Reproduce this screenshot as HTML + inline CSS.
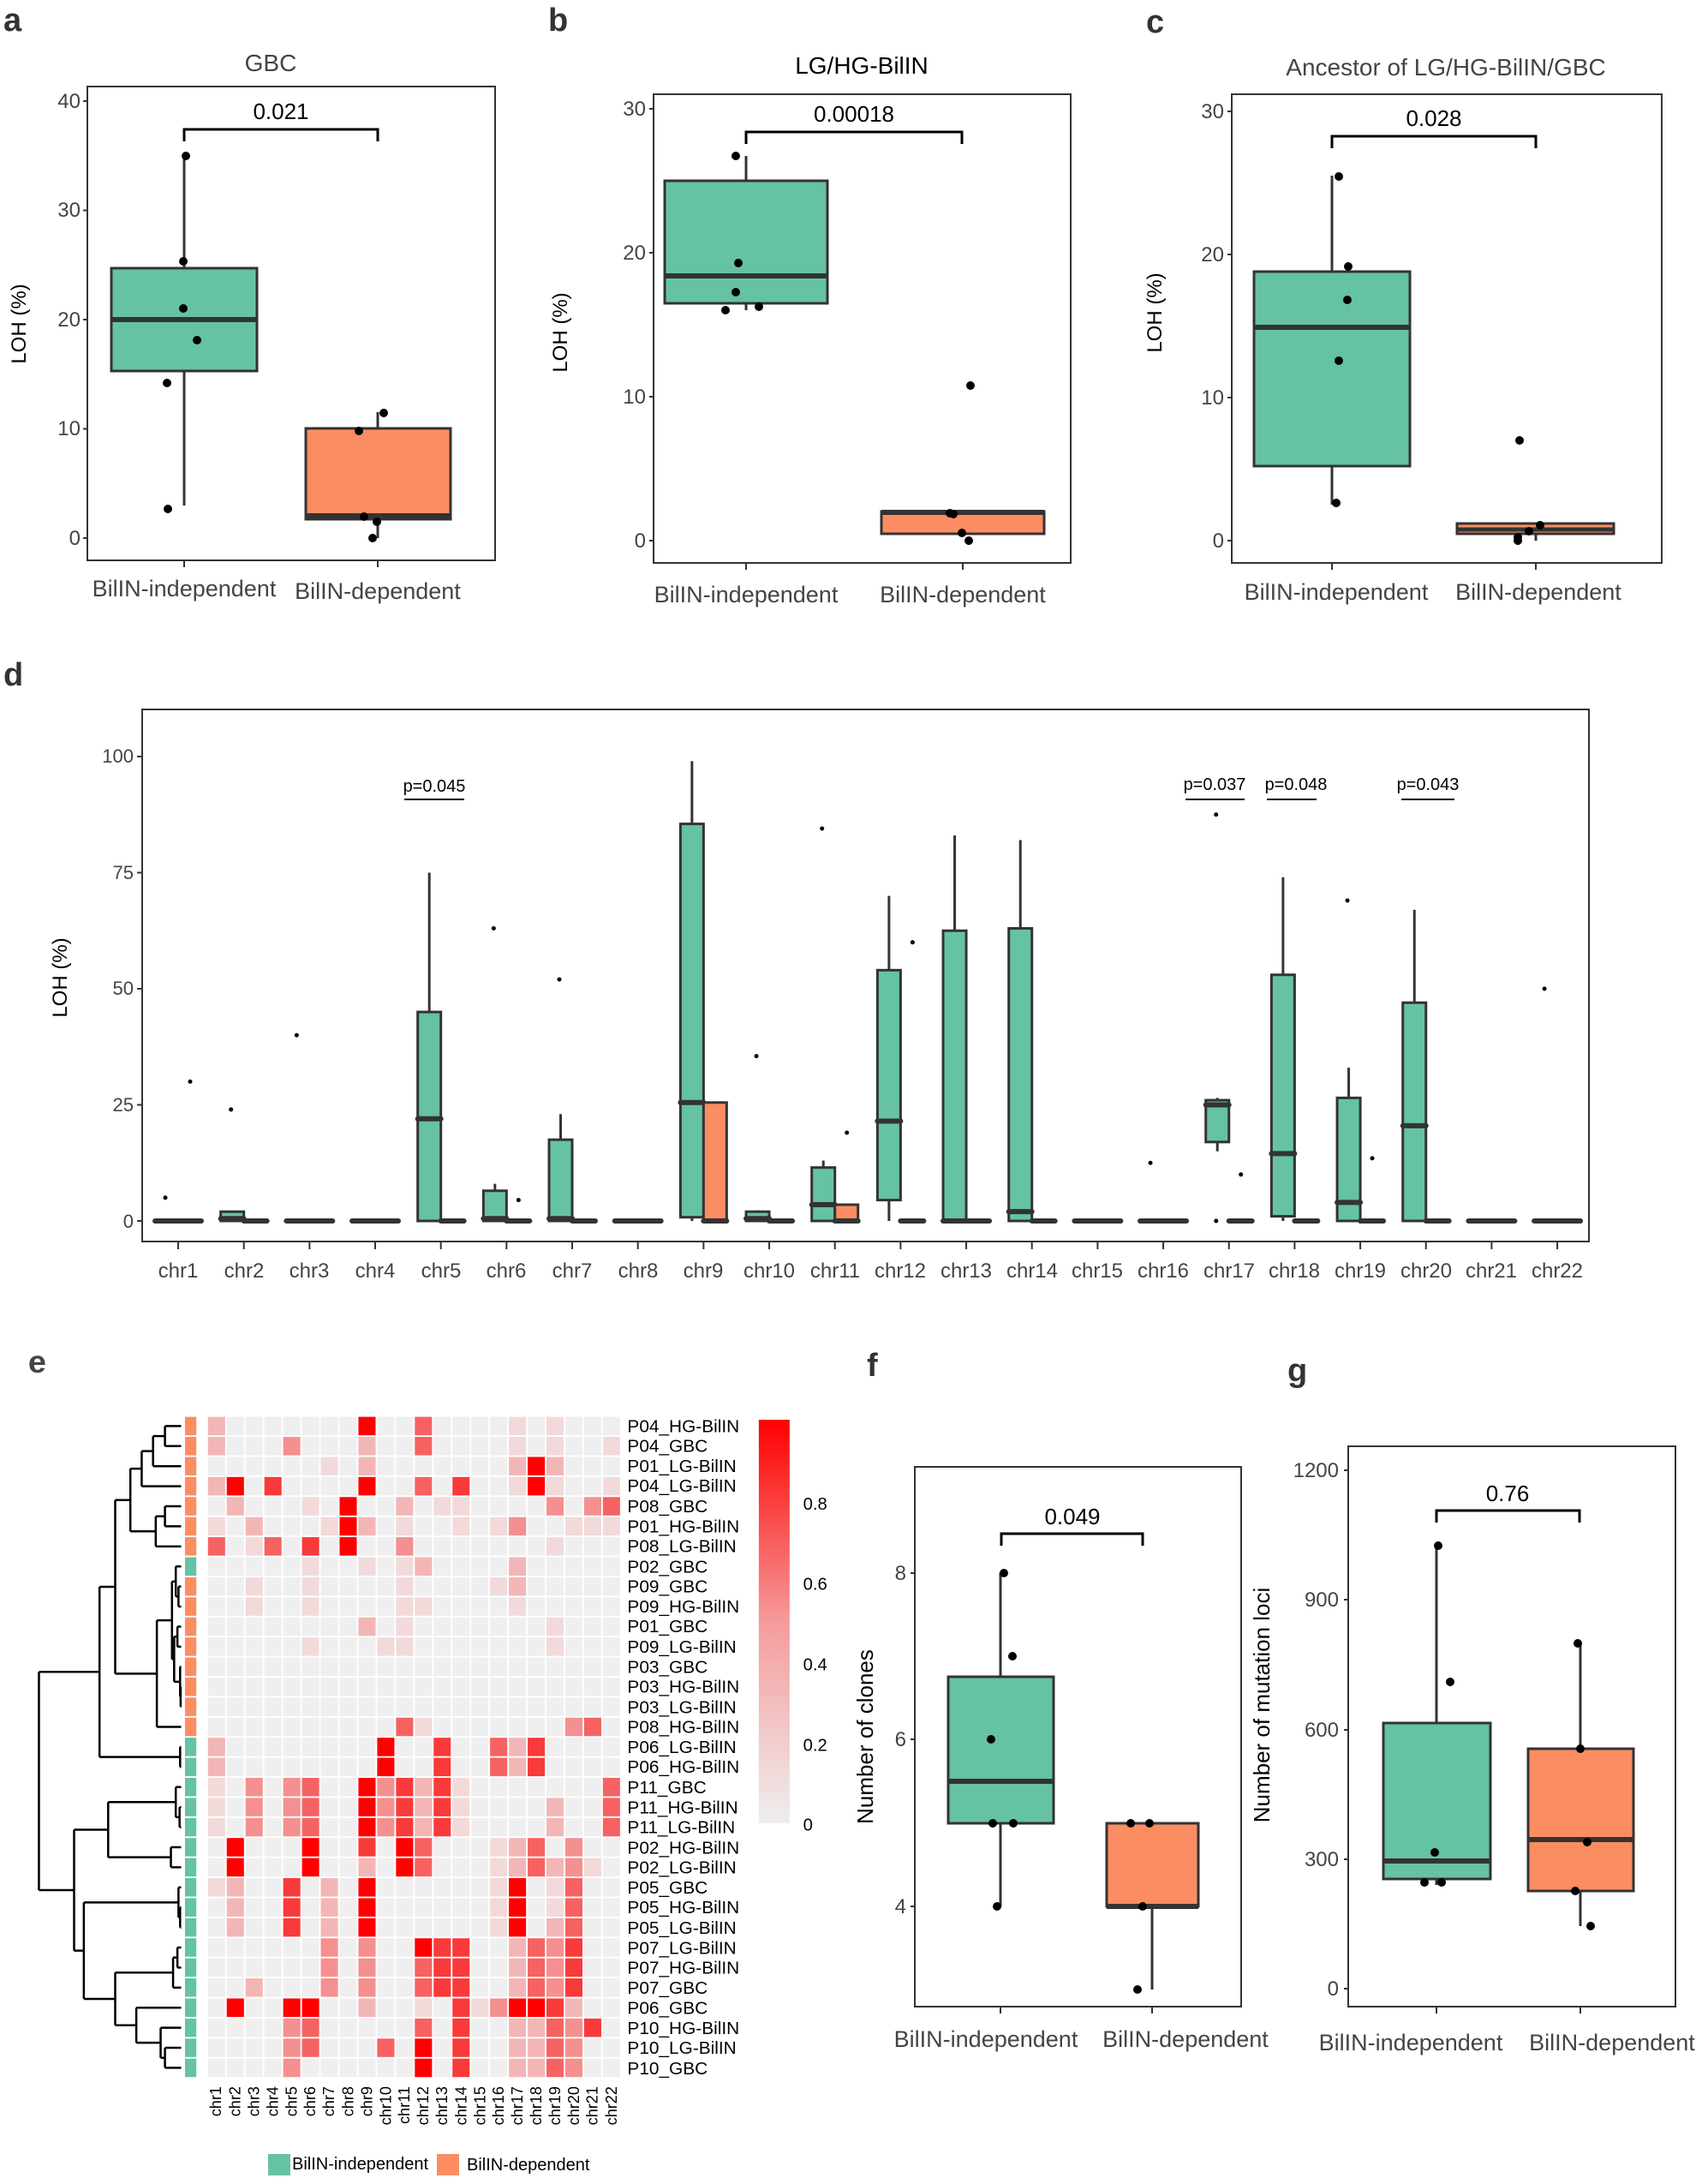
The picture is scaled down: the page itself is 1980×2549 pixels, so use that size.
<!DOCTYPE html>
<html><head><meta charset="utf-8"><style>
html,body{margin:0;padding:0;background:#fff}
svg{display:block}
text{font-family:"Liberation Sans",sans-serif}
</style></head><body>
<svg id="s" width="1980" height="2549" viewBox="0 0 1980 2549" xmlns="http://www.w3.org/2000/svg">
<rect width="1980" height="2549" fill="#fff"/>
<g font-weight="bold" font-size="38" fill="#333">
<text x="4" y="36">a</text><text x="640" y="36">b</text><text x="1338" y="38">c</text>
<text x="4" y="800">d</text><text x="1012" y="1606">f</text><text x="1503" y="1612">g</text>
</g>
<!-- Panel a -->
<g stroke="#333" fill="none">
<rect x="102" y="101" width="476" height="553" stroke-width="2"/>
<line x1="215" y1="182" x2="215" y2="590" stroke-width="3"/>
<rect x="130" y="313" width="170" height="120" fill="#66c2a5" stroke-width="3"/>
<line x1="130" y1="373" x2="300" y2="373" stroke-width="6"/>
<line x1="441" y1="481" x2="441" y2="628" stroke-width="3"/>
<rect x="357" y="500" width="169" height="106" fill="#fc8d62" stroke-width="3"/>
<line x1="357" y1="602" x2="526" y2="602" stroke-width="6"/>
<path d="M215 165V151H441V165" stroke-width="3" stroke="#000"/>
<path d="M97 628H102M97 500.5H102M97 373H102M97 245.5H102M97 118H102M215 654V662M441 654V662" stroke-width="2"/>
</g>
<g fill="#000">
<circle cx="217" cy="182" r="5"/><circle cx="214" cy="305" r="5"/><circle cx="214" cy="360" r="5"/><circle cx="230" cy="397" r="5"/><circle cx="195" cy="447" r="5"/><circle cx="196" cy="594" r="5"/>
<circle cx="419" cy="503" r="5"/><circle cx="448" cy="482" r="5"/><circle cx="425" cy="603" r="5"/><circle cx="440" cy="609" r="5"/><circle cx="435" cy="628" r="5"/>
</g>
<g font-size="24" fill="#444" text-anchor="end">
<text x="94" y="636">0</text><text x="94" y="508">10</text><text x="94" y="381">20</text><text x="94" y="253">30</text><text x="94" y="126">40</text>
</g>
<text x="328" y="139" font-size="26" text-anchor="middle">0.021</text>
<text x="316" y="83" font-size="28" text-anchor="middle" fill="#444">GBC</text>
<text transform="translate(30,378) rotate(-90)" font-size="24" text-anchor="middle">LOH (%)</text>
<g font-size="27" fill="#444" text-anchor="middle"><text x="215" y="696">BilIN-independent</text><text x="441" y="699">BilIN-dependent</text></g>

<!-- Panel b -->
<g stroke="#333" fill="none">
<rect x="763" y="110" width="487" height="547" stroke-width="2"/>
<line x1="871" y1="182" x2="871" y2="362" stroke-width="3"/>
<rect x="776" y="211" width="190" height="143" fill="#66c2a5" stroke-width="3"/>
<line x1="776" y1="322" x2="966" y2="322" stroke-width="6"/>
<rect x="1029" y="597" width="190" height="26" fill="#fc8d62" stroke-width="3"/>
<line x1="1029" y1="598" x2="1219" y2="598" stroke-width="6"/>
<path d="M871 168V154H1123V168" stroke-width="3" stroke="#000"/>
<path d="M758 631H763M758 463H763M758 295H763M758 127H763M871 657V665M1124 657V665" stroke-width="2"/>
</g>
<g fill="#000">
<circle cx="859" cy="182" r="5"/><circle cx="862" cy="307" r="5"/><circle cx="859" cy="341" r="5"/><circle cx="847" cy="362" r="5"/><circle cx="886" cy="358" r="5"/>
<circle cx="1133" cy="450" r="5"/><circle cx="1109" cy="599" r="5"/><circle cx="1113" cy="600" r="5"/><circle cx="1123" cy="622" r="5"/><circle cx="1131" cy="631" r="5"/>
</g>
<g font-size="24" fill="#444" text-anchor="end">
<text x="754" y="639">0</text><text x="754" y="471">10</text><text x="754" y="303">20</text><text x="754" y="135">30</text>
</g>
<text x="997" y="142" font-size="26" text-anchor="middle">0.00018</text>
<text x="1006" y="86" font-size="28" text-anchor="middle" fill="#000">LG/HG-BilIN</text>
<text transform="translate(662,388) rotate(-90)" font-size="24" text-anchor="middle">LOH (%)</text>
<g font-size="27" fill="#444" text-anchor="middle"><text x="871" y="703">BilIN-independent</text><text x="1124" y="703">BilIN-dependent</text></g>

<!-- Panel c -->
<g stroke="#333" fill="none">
<rect x="1438" y="110" width="502" height="547" stroke-width="2"/>
<line x1="1555" y1="205" x2="1555" y2="589" stroke-width="3"/>
<rect x="1464" y="317" width="182" height="227" fill="#66c2a5" stroke-width="3"/>
<line x1="1464" y1="382" x2="1646" y2="382" stroke-width="6"/>
<line x1="1793" y1="611" x2="1793" y2="631" stroke-width="3"/>
<rect x="1701" y="611" width="183" height="12" fill="#fc8d62" stroke-width="3"/>
<line x1="1701" y1="618" x2="1884" y2="618" stroke-width="5"/>
<path d="M1555 173V159H1793V173" stroke-width="3" stroke="#000"/>
<path d="M1433 631H1438M1433 464H1438M1433 297H1438M1433 130H1438M1555 657V665M1793 657V665" stroke-width="2"/>
</g>
<g fill="#000">
<circle cx="1563" cy="206" r="5"/><circle cx="1574" cy="311" r="5"/><circle cx="1573" cy="350" r="5"/><circle cx="1563" cy="421" r="5"/><circle cx="1560" cy="587" r="5"/>
<circle cx="1774" cy="514" r="5"/><circle cx="1798" cy="613" r="5"/><circle cx="1785" cy="620" r="5"/><circle cx="1772" cy="627" r="5"/><circle cx="1772" cy="631" r="5"/>
</g>
<g font-size="24" fill="#444" text-anchor="end">
<text x="1429" y="639">0</text><text x="1429" y="472">10</text><text x="1429" y="305">20</text><text x="1429" y="138">30</text>
</g>
<text x="1674" y="147" font-size="26" text-anchor="middle">0.028</text>
<text x="1688" y="88" font-size="28" text-anchor="middle" fill="#444">Ancestor of LG/HG-BilIN/GBC</text>
<text transform="translate(1356,365) rotate(-90)" font-size="24" text-anchor="middle">LOH (%)</text>
<g font-size="27" fill="#444" text-anchor="middle"><text x="1560" y="700">BilIN-independent</text><text x="1796" y="700">BilIN-dependent</text></g>

<!-- Panel d -->
<rect x="166" y="828" width="1689" height="621" fill="none" stroke="#333" stroke-width="2"/>
<g id="dg"></g>
<g font-size="22" fill="#444" text-anchor="end">
<text x="156" y="1433">0</text><text x="156" y="1297">25</text><text x="156" y="1161">50</text><text x="156" y="1026">75</text><text x="156" y="890">100</text>
</g>
<text transform="translate(78,1141) rotate(-90)" font-size="24" text-anchor="middle">LOH (%)</text>
<g font-size="20" text-anchor="middle">
<text x="507" y="924">p=0.045</text><text x="1418" y="922">p=0.037</text><text x="1513" y="922">p=0.048</text><text x="1667" y="922">p=0.043</text>
</g>
<g stroke="#000" stroke-width="2"><path d="M472 933H542M1384 933H1453M1479 933H1537M1636 933H1698"/></g>
<g font-size="24" fill="#444" text-anchor="middle">
<text x="208" y="1491">chr1</text><text x="285" y="1491">chr2</text><text x="361" y="1491">chr3</text><text x="438" y="1491">chr4</text><text x="515" y="1491">chr5</text><text x="591" y="1491">chr6</text><text x="668" y="1491">chr7</text><text x="745" y="1491">chr8</text><text x="821" y="1491">chr9</text><text x="898" y="1491">chr10</text><text x="975" y="1491">chr11</text><text x="1051" y="1491">chr12</text><text x="1128" y="1491">chr13</text><text x="1205" y="1491">chr14</text><text x="1281" y="1491">chr15</text><text x="1358" y="1491">chr16</text><text x="1435" y="1491">chr17</text><text x="1511" y="1491">chr18</text><text x="1588" y="1491">chr19</text><text x="1665" y="1491">chr20</text><text x="1741" y="1491">chr21</text><text x="1818" y="1491">chr22</text>
</g>

<!-- Panel e -->
<svg x="0" y="1576" width="985" height="952" viewBox="0 0 1560 1527" preserveAspectRatio="none">
<g id="hm"></g>
<g id="dend" stroke="#000" stroke-width="4" fill="none"></g>
<g font-size="33" fill="#000">
<text x="1160" y="153">P04_HG-BilIN</text><text x="1160" y="190">P04_GBC</text><text x="1160" y="228">P01_LG-BilIN</text><text x="1160" y="265">P04_LG-BilIN</text><text x="1160" y="303">P08_GBC</text><text x="1160" y="341">P01_HG-BilIN</text><text x="1160" y="378">P08_LG-BilIN</text><text x="1160" y="416">P02_GBC</text><text x="1160" y="453">P09_GBC</text><text x="1160" y="491">P09_HG-BilIN</text><text x="1160" y="528">P01_GBC</text><text x="1160" y="566">P09_LG-BilIN</text><text x="1160" y="604">P03_GBC</text><text x="1160" y="641">P03_HG-BilIN</text><text x="1160" y="679">P03_LG-BilIN</text><text x="1160" y="716">P08_HG-BilIN</text><text x="1160" y="754">P06_LG-BilIN</text><text x="1160" y="791">P06_HG-BilIN</text><text x="1160" y="829">P11_GBC</text><text x="1160" y="867">P11_HG-BilIN</text><text x="1160" y="904">P11_LG-BilIN</text><text x="1160" y="942">P02_HG-BilIN</text><text x="1160" y="979">P02_LG-BilIN</text><text x="1160" y="1017">P05_GBC</text><text x="1160" y="1054">P05_HG-BilIN</text><text x="1160" y="1092">P05_LG-BilIN</text><text x="1160" y="1130">P07_LG-BilIN</text><text x="1160" y="1167">P07_HG-BilIN</text><text x="1160" y="1205">P07_GBC</text><text x="1160" y="1242">P06_GBC</text><text x="1160" y="1280">P10_HG-BilIN</text><text x="1160" y="1317">P10_LG-BilIN</text><text x="1160" y="1355">P10_GBC</text>
</g>
<g font-size="29" fill="#000" text-anchor="end">
<text transform="translate(409,1378) rotate(-90)">chr1</text><text transform="translate(444,1378) rotate(-90)">chr2</text><text transform="translate(479,1378) rotate(-90)">chr3</text><text transform="translate(514,1378) rotate(-90)">chr4</text><text transform="translate(549,1378) rotate(-90)">chr5</text><text transform="translate(583,1378) rotate(-90)">chr6</text><text transform="translate(618,1378) rotate(-90)">chr7</text><text transform="translate(653,1378) rotate(-90)">chr8</text><text transform="translate(688,1378) rotate(-90)">chr9</text><text transform="translate(723,1378) rotate(-90)">chr10</text><text transform="translate(757,1378) rotate(-90)">chr11</text><text transform="translate(792,1378) rotate(-90)">chr12</text><text transform="translate(827,1378) rotate(-90)">chr13</text><text transform="translate(862,1378) rotate(-90)">chr14</text><text transform="translate(897,1378) rotate(-90)">chr15</text><text transform="translate(931,1378) rotate(-90)">chr16</text><text transform="translate(966,1378) rotate(-90)">chr17</text><text transform="translate(1001,1378) rotate(-90)">chr18</text><text transform="translate(1036,1378) rotate(-90)">chr19</text><text transform="translate(1071,1378) rotate(-90)">chr20</text><text transform="translate(1105,1378) rotate(-90)">chr21</text><text transform="translate(1140,1378) rotate(-90)">chr22</text>
</g>
<defs><linearGradient id="cb" x1="0" y1="1" x2="0" y2="0"><stop offset="0" stop-color="#eeeeee"/><stop offset="0.5" stop-color="#f59a9a"/><stop offset="1" stop-color="#ff0000"/></linearGradient></defs>
<rect x="1403" y="130" width="57" height="755" fill="url(#cb)"/>
<g font-size="32" fill="#000"><text x="1485" y="298">0.8</text><text x="1485" y="448">0.6</text><text x="1485" y="599">0.4</text><text x="1485" y="750">0.2</text><text x="1485" y="899">0</text></g>
<text x="52" y="42" font-size="60" font-weight="bold" fill="#444">e</text>
</svg>
<rect x="313" y="2514" width="26" height="25" fill="#66c2a5"/><text x="341" y="2532" font-size="20">BilIN-independent</text>
<rect x="510" y="2514" width="26" height="25" fill="#fc8d62"/><text x="545" y="2533" font-size="20">BilIN-dependent</text>

<!-- Panel f -->
<g stroke="#333" fill="none">
<rect x="1068" y="1712" width="381" height="630" stroke-width="2"/>
<line x1="1168" y1="1836" x2="1168" y2="2225" stroke-width="3"/>
<rect x="1107" y="1957" width="123" height="171" fill="#66c2a5" stroke-width="3"/>
<line x1="1107" y1="2079" x2="1230" y2="2079" stroke-width="6"/>
<line x1="1345" y1="2128" x2="1345" y2="2322" stroke-width="3"/>
<rect x="1292" y="2128" width="107" height="97" fill="#fc8d62" stroke-width="3"/>
<line x1="1292" y1="2225" x2="1399" y2="2225" stroke-width="6"/>
<path d="M1169 1804V1790H1334V1804" stroke-width="3" stroke="#000"/>
<path d="M1063 2225H1068M1063 2030H1068M1063 1836H1068M1168 2342V2350M1345 2342V2350" stroke-width="2"/>
</g>
<g fill="#000">
<circle cx="1172" cy="1836" r="5"/><circle cx="1182" cy="1933" r="5"/><circle cx="1157" cy="2030" r="5"/><circle cx="1159" cy="2128" r="5"/><circle cx="1183" cy="2128" r="5"/><circle cx="1164" cy="2225" r="5"/>
<circle cx="1320" cy="2128" r="5"/><circle cx="1342" cy="2128" r="5"/><circle cx="1334" cy="2225" r="5"/><circle cx="1328" cy="2322" r="5"/>
</g>
<g font-size="24" fill="#444" text-anchor="end"><text x="1058" y="2233">4</text><text x="1058" y="2038">6</text><text x="1058" y="1844">8</text></g>
<text x="1252" y="1779" font-size="26" text-anchor="middle">0.049</text>
<text transform="translate(1019,2027) rotate(-90)" font-size="26" text-anchor="middle">Number of clones</text>
<g font-size="27" fill="#444" text-anchor="middle"><text x="1151" y="2389">BilIN-independent</text><text x="1384" y="2389">BilIN-dependent</text></g>

<!-- Panel g -->
<g stroke="#333" fill="none">
<rect x="1574" y="1688" width="382" height="654" stroke-width="2"/>
<line x1="1677" y1="1804" x2="1677" y2="2200" stroke-width="3"/>
<rect x="1615" y="2011" width="125" height="182" fill="#66c2a5" stroke-width="3"/>
<line x1="1615" y1="2172" x2="1740" y2="2172" stroke-width="6"/>
<line x1="1845" y1="1918" x2="1845" y2="2248" stroke-width="3"/>
<rect x="1784" y="2041" width="123" height="166" fill="#fc8d62" stroke-width="3"/>
<line x1="1784" y1="2147" x2="1907" y2="2147" stroke-width="6"/>
<path d="M1677 1777V1763H1844V1777" stroke-width="3" stroke="#000"/>
<path d="M1569 2321H1574M1569 2170H1574M1569 2019H1574M1569 1867H1574M1569 1716H1574M1677 2342V2350M1845 2342V2350" stroke-width="2"/>
</g>
<g fill="#000">
<circle cx="1679" cy="1804" r="5"/><circle cx="1693" cy="1963" r="5"/><circle cx="1675" cy="2162" r="5"/><circle cx="1663" cy="2197" r="5"/><circle cx="1683" cy="2197" r="5"/>
<circle cx="1842" cy="1918" r="5"/><circle cx="1845" cy="2041" r="5"/><circle cx="1853" cy="2150" r="5"/><circle cx="1839" cy="2207" r="5"/><circle cx="1857" cy="2248" r="5"/>
</g>
<g font-size="24" fill="#444" text-anchor="end"><text x="1563" y="2329">0</text><text x="1563" y="2178">300</text><text x="1563" y="2027">600</text><text x="1563" y="1875">900</text><text x="1563" y="1724">1200</text></g>
<text x="1760" y="1752" font-size="26" text-anchor="middle">0.76</text>
<text transform="translate(1482,1990) rotate(-90)" font-size="26" text-anchor="middle">Number of mutation loci</text>
<g font-size="27" fill="#444" text-anchor="middle"><text x="1647" y="2393">BilIN-independent</text><text x="1882" y="2393">BilIN-dependent</text></g>
</svg>
<script>
(function(){
var NS="http://www.w3.org/2000/svg";
function el(p,t,a){var e=document.createElementNS(NS,t);for(var k in a)e.setAttribute(k,a[k]);p.appendChild(e);return e;}
var dg=document.getElementById("dg");
function Y(v){return 1425-v*5.42;}
var G=[[0,0,0,0,0],[0,0.5,2,0,2.2],[0,0,0,0,0],[0,0,0,0,0],[0,22,45,0,75],[0,0.5,6.5,0,8],[0,0.5,17.5,0,23],[0,0,0,0,0],[0.8,25.5,85.5,0,99],[0,0.5,2,0,2.3],[0,3.5,11.5,0,13],[4.5,21.5,54,0,70],[0,0,62.5,0,83],[0,2,63,0,82],[0,0,0,0,0],[0,0,0,0,0],[17,25,26,15,26.5],[1,14.5,53,0,74],[0,4,26.5,0,33],[0,20.5,47,0,67],[0,0,0,0,0],[0,0,0,0,0]];
var O=[];for(var i=0;i<22;i++)O.push([0,0,0,0,0]);O[8]=[0,0,25.5,0,25.5];O[10]=[0,0,3.5,0,3.5];
var GD={0:[5],1:[24],2:[40],5:[63],6:[52],9:[35.5],10:[84.5],15:[12.5],16:[87.5,0],18:[69],21:[50]};
var OD={0:[30],5:[4.5],10:[19],11:[60],16:[10],18:[13.5]};
function box(x0,d,fill){var c=x0+13.5;
 if(d[4]>d[2])el(dg,"line",{x1:c,x2:c,y1:Y(d[4]),y2:Y(d[2]),stroke:"#333","stroke-width":3});
 if(d[3]<d[0])el(dg,"line",{x1:c,x2:c,y1:Y(d[0]),y2:Y(d[3]),stroke:"#333","stroke-width":3});
 el(dg,"rect",{x:x0,y:Y(d[2]),width:27,height:Math.max(0,Y(d[0])-Y(d[2])),fill:fill,stroke:"#333","stroke-width":3});
 el(dg,"line",{x1:x0,x2:x0+27,y1:Y(d[1]),y2:Y(d[1]),stroke:"#333","stroke-width":6,"stroke-linecap":"round"});}
for(var i=0;i<22;i++){var cx=208+i*76.67;
 box(cx-27,G[i],"#66c2a5");box(cx,O[i],"#fc8d62");
 el(dg,"line",{x1:cx,x2:cx,y1:1449,y2:1458,stroke:"#333","stroke-width":2});
 (GD[i]||[]).forEach(function(v){el(dg,"circle",{cx:cx-15,cy:Y(v),r:2.5,fill:"#000"});});
 (OD[i]||[]).forEach(function(v){el(dg,"circle",{cx:cx+14,cy:Y(v),r:2.5,fill:"#000"});});}
[0,25,50,75,100].forEach(function(v){el(dg,"line",{x1:160,x2:166,y1:Y(v),y2:Y(v),stroke:"#333","stroke-width":2});});
var R=["2000000060040000101000","2000300020040000101001","0000001020000000262000","2605000060040500161001","0200010600201100003034","1020001620100101300111","4014050600300000001000","0000010010120000200000","0010010000100001200000","0010010000110000100000","0000000020100000001000","0000010001100000001000","0000000000000000000000","0000000000000000000000","0000000000000000000000","0000000000410000000340","2000000006005004250000","2000000006005004250000","1030340063525100000004","1030340063525100002004","1030340063525100002004","0600060050640001240300","0600060020640001242310","1200502060000001601400","0200502060000001601400","0200502060000001602400","0000003030065500243500","0000003030045500243500","0020003030045500243500","0600660020010513665200","0000340000040500224350","0000340004060500224300","0000300000060500224300"];
var C=["#efefef","#f2dada","#f3b6b6","#f49090","#f66262","#f93a3a","#ff0000"];
var hm=document.getElementById("hm");var cw=765/22,rh=1239/33;
for(var r=0;r<33;r++){var y=123+r*rh;
 var ann=(r<7||(r>=8&&r<16))?"#fc8d62":"#66c2a5";
 el(hm,"rect",{x:342,y:y+1.5,width:21,height:rh-3,fill:ann});
 for(var c=0;c<22;c++){el(hm,"rect",{x:383+c*cw+1.5,y:y+1.5,width:cw-3,height:rh-3,fill:C[+R[r][c]]});}}
var dd=document.getElementById("dend");
function n(x){return {x:x,ch:Array.prototype.slice.call(arguments,1)};}
function draw(t){if(typeof t==="number")return {y:123+(t+0.5)*rh,x:335};
 var ps=t.ch.map(draw);var ys=ps.map(function(p){return p.y;});
 var y0=Math.min.apply(null,ys),y1=Math.max.apply(null,ys);
 el(dd,"line",{x1:t.x,x2:t.x,y1:y0,y2:y1});
 ps.forEach(function(p){el(dd,"line",{x1:t.x,x2:p.x,y1:p.y,y2:p.y});});
 return {y:(y0+y1)/2,x:t.x};}
var A=n(262,n(283,n(305,0,1),2),3),B=n(288,n(305,4,5),6),AB=n(241,A,B);
var Cc=n(290,n(318,n(325,7,n(330,8,9)),n(322,n(328,10,11),n(333,12,n(334,13,14)))),15);
var TOP=n(184,n(213,AB,Cc),n(333,16,17));
var E=n(200,n(325,18,n(332,19,20)),n(316,21,22));
var F5=n(330,23,n(333,24,25)),F7=n(320,n(328,26,27),28);
var Gg=n(252,29,n(297,30,n(305,31,32)));
var J=n(137,E,n(155,F5,n(213,F7,Gg)));
draw(n(72,TOP,J));
})();
</script>
</body></html>
